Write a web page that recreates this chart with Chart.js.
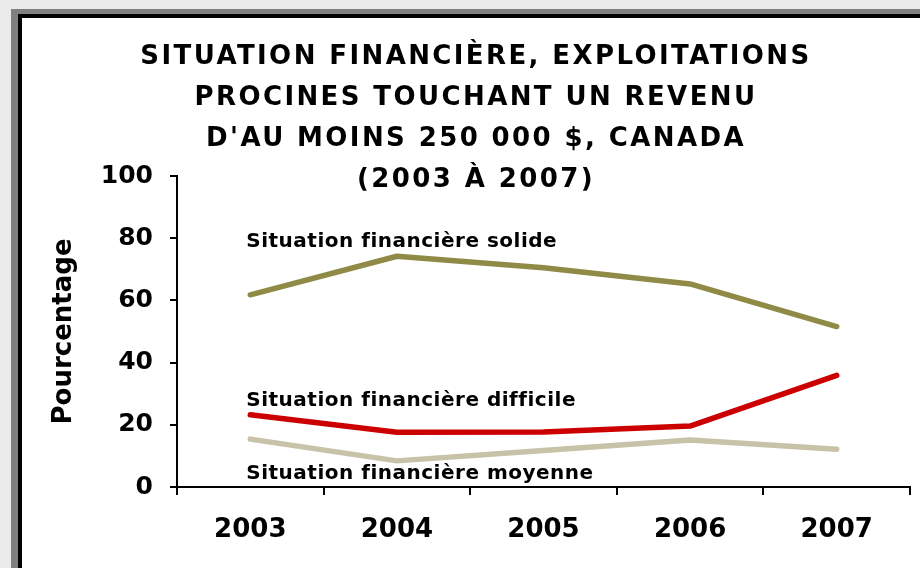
<!DOCTYPE html>
<html>
<head>
<meta charset="utf-8">
<script src="https://cdn.jsdelivr.net/npm/chart.js@4.4.1/dist/chart.umd.min.js"></script>
<style>
  body { margin: 0; background: #ebebeb; width: 920px; height: 568px; overflow: hidden; position: relative; }
  #frame { position: absolute; left: 11px; top: 9px; width: 1000px; height: 700px;
           background: #808080; }
  #inner { position: absolute; left: 7px; top: 5px; right: 0; bottom: 0;
           background: #fff; border-left: 4px solid #000; border-top: 4px solid #000; }
  #chart { position: absolute; left: 0; top: 0; }
</style>
</head>
<body>
<div id="frame"><div id="inner"></div></div>
<canvas id="chart" width="920" height="568"></canvas>
<script>
// data
const years = ["2003", "2004", "2005", "2006", "2007"];
const solide = [61.8, 74.2, 70.5, 65.3, 51.6];
const difficile = [23.2, 17.6, 17.7, 19.6, 35.9];
const moyenne = [15.4, 8.4, 11.7, 15.1, 12.1];
const yTicks = [0, 20, 40, 60, 80, 100];
const titleLines = [
  "SITUATION FINANCIÈRE, EXPLOITATIONS",
  "PROCINES TOUCHANT UN REVENU",
  "D'AU MOINS 250 000 $, CANADA",
  "(2003 À 2007)"
];

const FONT = "'DejaVu Sans', Verdana, sans-serif";

// title + series labels drawn over the plot
const textPlugin = {
  id: "texts",
  afterDraw(chart, args, opts) {
    const c = chart.ctx;
    c.save();
    c.fillStyle = "#000";
    c.font = "bold 26px " + FONT;
    c.letterSpacing = "2.4px";
    c.textAlign = "center";
    c.textBaseline = "middle";
    titleLines.forEach(function(t, i) {
      c.fillText(t, 476, 57 + i * 41);
    });
    // series labels, anchored to the scales
    const xs = chart.scales.x, ys = chart.scales.y;
    c.font = "bold 20px " + FONT;
    c.letterSpacing = "0.5px";
    c.textAlign = "left";
    c.textBaseline = "alphabetic";
    opts.labels.forEach(function(l) {
      c.fillText(l.text, xs.getPixelForValue(0) - 4, ys.getPixelForValue(l.y));
    });
    c.restore();
  }
};

let ctx = document.getElementById("chart");
let lineGraph = new Chart(ctx, {
  type: "line",
  data: {
    labels: years,
    datasets: [
      { label: "Situation financière solide", data: solide, borderColor: "#8f8b47" },
      { label: "Situation financière difficile", data: difficile, borderColor: "#cc0000" },
      { label: "Situation financière moyenne", data: moyenne, borderColor: "#c8c2a8" }
    ]
  },
  options: {
    responsive: false,
    maintainAspectRatio: false,
    animation: false,
    devicePixelRatio: 1,
    layout: { padding: { top: 176, right: 10, left: 0, bottom: 0 } },
    elements: {
      line: { borderWidth: 5.5, tension: 0, borderCapStyle: "round", borderJoinStyle: "round" },
      point: { radius: 0 }
    },
    plugins: {
      legend: { display: false },
      tooltip: { enabled: false },
      texts: {
        labels: [
          { text: "Situation financière solide", y: 77.2 },
          { text: "Situation financière difficile", y: 25.9 },
          { text: "Situation financière moyenne", y: 2.6 }
        ]
      }
    },
    scales: {
      x: {
        offset: true,
        grid: { offset: true, drawOnChartArea: false, tickLength: 8, color: "#000", lineWidth: 2 },
        border: { color: "#000", width: 2 },
        ticks: { color: "#000", font: { family: FONT, size: 26, weight: "bold" }, padding: 20, maxRotation: 0 },
        afterFit(scale) { scale.height = 81; }
      },
      y: {
        min: 0,
        max: 100,
        afterBuildTicks(scale) { scale.ticks = yTicks.map(function(v) { return { value: v }; }); },
        grid: { drawOnChartArea: false, tickLength: 7, color: "#000", lineWidth: 2 },
        border: { color: "#000", width: 2 },
        ticks: { color: "#000", font: { family: FONT, size: 25, weight: "bold" }, padding: 17 },
        title: {
          display: true,
          text: "Pourcentage",
          color: "#000",
          font: { family: FONT, size: 26, weight: "bold" },
          padding: { top: 49, bottom: 0 }
        },
        afterFit(scale) { scale.width = 177; }
      }
    }
  },
  plugins: [textPlugin]
});
</script>
</body>
</html>
